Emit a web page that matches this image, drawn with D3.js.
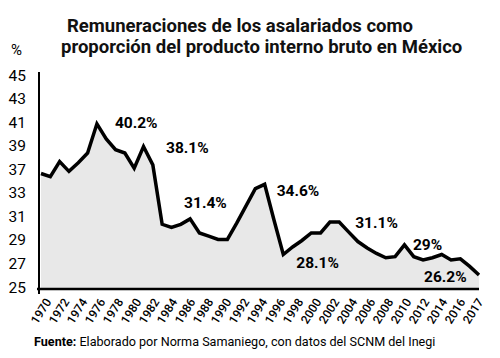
<!DOCTYPE html>
<html>
<head>
<meta charset="utf-8">
<style>
  body { margin: 0; background: #fff; }
  svg { display: block; font-family: Roboto, sans-serif; }
</style>
</head>
<body>
<div class="chart"></div>

<script src="https://cdn.jsdelivr.net/npm/d3@7/dist/d3.min.js" charset="utf-8"></script>
<script>
    // years 1970..2017, share of GDP (%)
    const years = d3.range(1970, 2018);
    const values = [
        35.6, 35.3, 36.7, 35.8, 36.6, 37.5, 40.2, 38.8, 37.8, 37.5,
        36.1, 38.1, 36.4, 30.9, 30.6, 30.9, 31.4, 30.1, 29.8, 29.5,
        29.5, 31.0, 32.6, 34.2, 34.6, 31.3, 28.1, 28.8, 29.4, 30.1,
        30.1, 31.1, 31.1, 30.2, 29.3, 28.7, 28.2, 27.8, 27.9, 29.0,
        27.9, 27.6, 27.8, 28.1, 27.6, 27.7, 27.0, 26.2
    ];
    const xLabels = ["1970", "1972", "1974", "1976", "1978", "1980", "1982", "1984",
        "1986", "1988", "1990", "1992", "1994", "1996", "1998", "2000", "2002",
        "2004", "2006", "2008", "2010", "2012", "2014", "2016", "2017"];
    // the printed y labels skip 35
    const yLabels = ["25", "27", "29", "31", "33", "37", "39", "41", "43", "45"];
    const noteYears = [1976, 1981, 1986, 1994, 1996, 2002, 2009, 2017];
    const noteText = ["40.2%", "38.1%", "31.4%", "34.6%", "28.1%", "31.1%", "29%", "26.2%"];

    const width = 500, height = 358;
    const data = years.map((yr, i) => ({year: yr, value: values[i]}));

    const x = d3.scaleLinear().domain([1970, 2017]).range([41, 479]);
    const y = d3.scaleLinear().domain([25, 45]).range([288, 72]);
    const xl = d3.scalePoint().domain(xLabels).range([40, 472]);
    const yl = d3.scalePoint().domain(yLabels).range([287, 75]);

    const svg = d3.create("svg")
        .attr("width", width)
        .attr("height", height);

    // title
    const title = svg.append("g")
        .attr("font-weight", "bold")
        .attr("font-size", 18.5)
        .attr("fill", "#111");
    title.append("text").attr("x", 67).attr("y", 32)
        .text("Remuneraciones de los asalariados como");
    title.append("text").attr("x", 61).attr("y", 53)
        .text("proporción del producto interno bruto en México");
    svg.append("text")
        .attr("x", 11).attr("y", 55)
        .attr("font-size", 15)
        .text("%");

    // area + line
    svg.append("path")
        .datum(data)
        .attr("fill", "#e8e8e8")
        .attr("d", d3.area()
            .x(d => x(d.year))
            .y0(y(25))
            .y1(d => y(d.value)));
    svg.append("path")
        .datum(data)
        .attr("fill", "none")
        .attr("stroke", "#000")
        .attr("stroke-width", 3.5)
        .attr("stroke-linejoin", "miter")
        .attr("d", d3.line()
            .x(d => x(d.year))
            .y(d => y(d.value)));

    // axes lines
    svg.append("line")
        .attr("x1", 39).attr("x2", 39)
        .attr("y1", y(45)).attr("y2", y(25) + 6)
        .attr("stroke", "#000").attr("stroke-width", 2);
    svg.append("line")
        .attr("x1", 37).attr("x2", x(2017))
        .attr("y1", y(25) + 1).attr("y2", y(25) + 1)
        .attr("stroke", "#000").attr("stroke-width", 2.5);

    // y labels
    svg.append("g")
        .attr("font-size", 15.5)
        .attr("text-anchor", "end")
        .selectAll("text")
        .data(yLabels)
        .join("text")
            .attr("x", 26)
            .attr("y", d => yl(d))
            .attr("dy", "0.36em")
            .text(d => d);

    // x labels
    svg.append("g")
        .attr("font-size", 12)
        .attr("font-weight", 500)
        .attr("text-anchor", "middle")
        .selectAll("text")
        .data(xLabels)
        .join("text")
            .attr("transform", d => `translate(${xl(d) + 1},311) rotate(-58)`)
            .attr("dy", "0.35em")
            .text(d => d);

    // annotations, offset from their point
    const noteOffset = [[18, 4.5], [22.5, 6.5], [-6, -11], [12, 12],
        [13, 13.5], [16, 6], [8.5, 5], [-55, 7]];
    svg.append("g")
        .attr("font-size", 15.5)
        .attr("font-weight", "bold")
        .selectAll("text")
        .data(noteYears)
        .join("text")
            .attr("x", (d, i) => x(d) + noteOffset[i][0])
            .attr("y", (d, i) => y(values[years.indexOf(d)]) + noteOffset[i][1])
            .text((d, i) => noteText[i]);

    // source
    const src = svg.append("text")
        .attr("x", 34).attr("y", 346)
        .attr("font-size", 12.6);
    src.append("tspan").attr("font-weight", "bold").text("Fuente:");
    src.append("tspan").text(" Elaborado por Norma Samaniego, con datos del SCNM del Inegi");

    document.querySelector(".chart").appendChild(svg.node());
</script>
</body>
</html>
